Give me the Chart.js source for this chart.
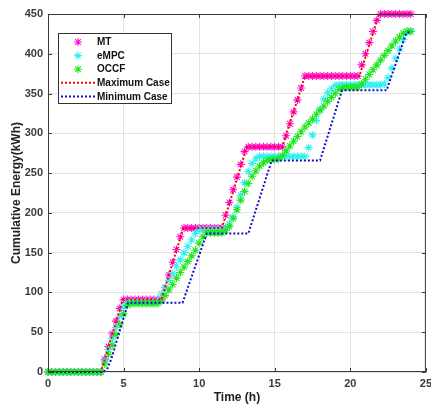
<!DOCTYPE html>
<html>
<head>
<meta charset="utf-8">
<title>Cumulative Energy</title>
<script src="https://cdn.jsdelivr.net/npm/chart.js@4.4.1/dist/chart.umd.min.js"></script>
<style>
  html, body { margin: 0; padding: 0; background: #fff; }
  #wrap { width: 431px; height: 407px; }
</style>
</head>
<body>
<div id="wrap"><canvas id="energy-chart" width="431" height="407"></canvas></div>
<script>
// Time axis (h), one sample every 15 minutes
const time = [
  0, 0.25, 0.5, 0.75, 1, 1.25, 1.5, 1.75, 2, 2.25, 2.5, 2.75,
  3, 3.25, 3.5, 3.75, 4, 4.25, 4.5, 4.75, 5, 5.25, 5.5, 5.75,
  6, 6.25, 6.5, 6.75, 7, 7.25, 7.5, 7.75, 8, 8.25, 8.5, 8.75,
  9, 9.25, 9.5, 9.75, 10, 10.25, 10.5, 10.75, 11, 11.25, 11.5, 11.75,
  12, 12.25, 12.5, 12.75, 13, 13.25, 13.5, 13.75, 14, 14.25, 14.5, 14.75,
  15, 15.25, 15.5, 15.75, 16, 16.25, 16.5, 16.75, 17, 17.25, 17.5, 17.75,
  18, 18.25, 18.5, 18.75, 19, 19.25, 19.5, 19.75, 20, 20.25, 20.5, 20.75,
  21, 21.25, 21.5, 21.75, 22, 22.25, 22.5, 22.75, 23, 23.25, 23.5, 23.75,
  24
];

// Cumulative energy (kWh), one row per hour
const mtEnergy = [
  0, 0, 0, 0,
  0, 0, 0, 0,
  0, 0, 0, 0,
  0, 0, 0, 16,
  32, 48, 64, 80,
  91, 91, 91, 91,
  91, 91, 91, 91,
  91, 91, 91, 106,
  122, 138, 154, 170,
  181, 181, 181, 181,
  181, 181, 181, 181,
  181, 181, 181, 197,
  213, 229, 245, 261,
  277, 283, 283, 283,
  283, 283, 283, 283,
  283, 283, 283, 297,
  312, 327, 342, 357,
  372, 372, 372, 372,
  372, 372, 372, 372,
  372, 372, 372, 372,
  372, 372, 372, 386,
  400, 414, 428, 442,
  450, 450, 450, 450,
  450, 450, 450, 450,
  450
];

const empcEnergy = [
  0, 0, 0, 0,
  0, 0, 0, 0,
  0, 0, 0, 0,
  0, 0, 0, 14,
  28, 42, 56, 70,
  82, 88, 88, 88,
  88, 88, 88, 88,
  88, 90, 98, 106,
  115, 124, 133, 141,
  150, 158, 166, 174,
  179, 179, 179, 179,
  179, 179, 179, 181,
  186, 195, 207, 222,
  238, 252, 262, 268,
  271, 271, 271, 271,
  271, 271, 271, 271,
  271, 271, 271, 271,
  271, 282, 298, 316,
  330, 343, 351, 356,
  360, 361, 361, 361,
  361, 361, 361, 361,
  361, 361, 361, 361,
  361, 362, 370, 382,
  394, 406, 418, 428,
  429
];

const occfEnergy = [
  0, 0, 0, 0,
  0, 0, 0, 0,
  0, 0, 0, 0,
  0, 0, 0, 10,
  22, 34, 47, 60,
  73, 84, 86, 86,
  86, 86, 86, 86,
  86, 86, 89, 96,
  103, 110, 118, 125,
  132, 139, 146, 153,
  162, 170, 175, 175,
  175, 175, 175, 178,
  183, 193, 204, 216,
  227, 237, 246, 253,
  259, 263, 266, 267,
  267, 268, 272, 278,
  284, 290, 296, 302,
  308, 313, 318, 324,
  329, 334, 340, 345,
  350, 355, 357, 358,
  358, 358, 358, 362,
  368, 374, 380, 386,
  392, 398, 404, 410,
  416, 421, 426, 428,
  428
];

// Bounding cases (corner points of the dotted curves)
const maxTime = [0, 3.5, 4.95, 7.5, 8.95, 11.5, 13.15, 15.5, 17.0, 20.6, 21.9, 24];
const maxEnergy = [0, 0, 91, 91, 181, 181, 283, 283, 372, 372, 450, 450];
const minTime = [0, 3.6, 3.9, 4.2, 5.3, 8.9, 10.5, 13.25, 14.8, 18.0, 19.45, 22.4, 23.7, 24];
const minEnergy = [0, 0, 3, 17, 87, 87, 174, 174, 266, 266, 354, 354, 426, 428];

// Axis ticks
const xTicks = [0, 5, 10, 15, 20, 25];
const yTicks = [0, 50, 100, 150, 200, 250, 300, 350, 400, 450];

const FONT = "'Liberation Sans', Arial, sans-serif";

function toPoints(xs, ys) {
  return xs.map((x, i) => ({ x: x, y: ys[i] }));
}

function markerSet(label, ys, color, order) {
  return {
    label: label,
    data: toPoints(time, ys),
    showLine: false,
    pointStyle: 'star',
    pointRadius: 4,
    pointBorderWidth: 1.1,
    pointBorderColor: color,
    pointBackgroundColor: color,
    borderColor: color,
    clip: false,
    order: order
  };
}

function dottedSet(label, xs, ys, color, order) {
  return {
    label: label,
    data: toPoints(xs, ys),
    showLine: true,
    borderColor: color,
    borderWidth: 2,
    borderDash: [2, 2],
    pointRadius: 0,
    tension: 0,
    clip: false,
    order: order
  };
}

// Box round the axes with inward tick marks, MATLAB style
const axesBox = {
  id: 'axesBox',
  afterDatasetsDraw(chart) {
    const { ctx, chartArea: a, scales } = chart;
    ctx.save();
    ctx.strokeStyle = '#3a3a3a';
    ctx.lineWidth = 1;
    ctx.strokeRect(a.left + 0.5, a.top + 0.5, a.right - a.left - 1, a.bottom - a.top - 1);
    ctx.beginPath();
    xTicks.forEach(v => {
      const px = Math.round(scales.x.getPixelForValue(v)) + 0.5;
      ctx.moveTo(px, a.bottom); ctx.lineTo(px, a.bottom - 4);
      ctx.moveTo(px, a.top); ctx.lineTo(px, a.top + 4);
    });
    yTicks.forEach(v => {
      const py = Math.round(scales.y.getPixelForValue(v)) + 0.5;
      ctx.moveTo(a.left, py); ctx.lineTo(a.left + 4, py);
      ctx.moveTo(a.right, py); ctx.lineTo(a.right - 4, py);
    });
    ctx.stroke();
    ctx.restore();
  }
};

// Legend drawn inside the axes, top left
const boxLegend = {
  id: 'boxLegend',
  afterDraw(chart) {
    const { ctx, chartArea: a } = chart;
    const x0 = a.left + 10, y0 = a.top + 19, w = 113, h = 70;
    ctx.save();
    ctx.fillStyle = '#fff';
    ctx.fillRect(x0, y0, w, h);
    ctx.strokeStyle = '#333';
    ctx.lineWidth = 1;
    ctx.strokeRect(x0 + 0.5, y0 + 0.5, w, h);
    ctx.font = 'bold 10px ' + FONT;
    ctx.textBaseline = 'middle';
    chart.data.datasets.forEach((ds, i) => {
      const y = y0 + 9 + i * 13.6;
      if (ds.showLine) {
        ctx.strokeStyle = ds.borderColor;
        ctx.lineWidth = 2;
        ctx.setLineDash([2, 2]);
        ctx.beginPath();
        ctx.moveTo(x0 + 3, y);
        ctx.lineTo(x0 + 37, y);
        ctx.stroke();
        ctx.setLineDash([]);
      } else {
        ctx.lineWidth = ds.pointBorderWidth;
        ctx.strokeStyle = ds.pointBorderColor;
        ctx.fillStyle = ds.pointBorderColor;
        Chart.helpers.drawPoint(ctx, {
          pointStyle: 'star', radius: 4, borderWidth: ds.pointBorderWidth
        }, x0 + 20, y);
      }
      ctx.fillStyle = '#111';
      ctx.fillText(ds.label, x0 + 39, y + 0.5);
    });
    ctx.restore();
  }
};

const ctx = document.getElementById('energy-chart').getContext('2d');

new Chart(ctx, {
  type: 'scatter',
  data: {
    datasets: [
      markerSet('MT', mtEnergy, '#ff10d8', 5),
      markerSet('eMPC', empcEnergy, '#2ef0f0', 4),
      markerSet('OCCF', occfEnergy, '#1ee61e', 3),
      dottedSet('Maximum Case', maxTime, maxEnergy, '#ff0000', 2),
      dottedSet('Minimum Case', minTime, minEnergy, '#1010c8', 1)
    ]
  },
  options: {
    responsive: false,
    animation: false,
    devicePixelRatio: 1,
    layout: { padding: { top: 14, right: 5, left: 0, bottom: 0 } },
    plugins: {
      legend: { display: false },
      tooltip: { enabled: false }
    },
    scales: {
      x: {
        type: 'linear',
        min: 0,
        max: 25,
        afterBuildTicks: scale => { scale.ticks = xTicks.map(v => ({ value: v })); },
        afterFit: scale => { scale.height = 35; scale.paddingLeft = 0; scale.paddingRight = 0; },
        ticks: { font: { family: FONT, size: 11, weight: 'bold' }, color: '#3a3a3a', padding: 5, maxRotation: 0 },
        grid: { color: '#e2e2e2', drawTicks: false },
        border: { display: false },
        title: {
          display: true,
          text: 'Time (h)',
          font: { family: FONT, size: 12, weight: 'bold' },
          color: '#222',
          padding: { top: 0, bottom: 2 }
        }
      },
      y: {
        min: 0,
        max: 450,
        afterBuildTicks: scale => { scale.ticks = yTicks.map(v => ({ value: v })); },
        afterFit: scale => { scale.width = 48; },
        ticks: { font: { family: FONT, size: 11, weight: 'bold' }, color: '#3a3a3a', padding: 5 },
        grid: { color: '#e2e2e2', drawTicks: false },
        border: { display: false },
        title: {
          display: true,
          text: 'Cumulative Energy(kWh)',
          font: { family: FONT, size: 12, weight: 'bold' },
          color: '#222',
          padding: { top: 9, bottom: 0 }
        }
      }
    }
  },
  plugins: [axesBox, boxLegend]
});
</script>
</body>
</html>
